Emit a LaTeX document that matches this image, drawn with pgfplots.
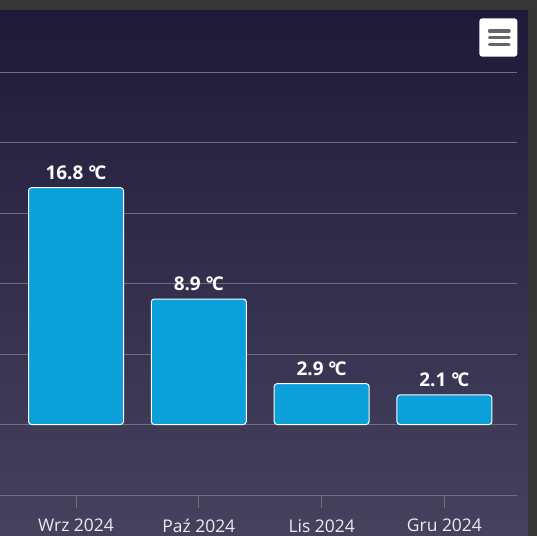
\documentclass[border=0pt]{standalone}
\usepackage{pgfplots}
\pgfplotsset{compat=1.18}
\usepackage{fontspec}
\setmainfont{Open Sans}
\definecolor{frame}{RGB}{54,54,54}
\definecolor{bgtop}{RGB}{32,26,58}
\definecolor{bgbot}{RGB}{70,66,94}
\definecolor{gridc}{RGB}{112,110,125}
\definecolor{barblue}{RGB}{12,160,218}
\definecolor{ticktext}{RGB}{236,236,240}
\definecolor{btngray}{RGB}{102,102,102}
\begin{document}
\begin{tikzpicture}[x=1bp,y=1bp]
\fill[frame] (0,0) rectangle (537,-536);
\shade[top color=bgtop,bottom color=bgbot] (0,-11) rectangle (528,-536);
\begin{axis}[
  at={(0bp,-495bp)}, anchor=south west,
  scale only axis, width=517bp, height=423bp,
  xmin=-0.619, xmax=3.591, ymin=-5, ymax=25,
  separate axis lines,
  axis x line*=bottom, axis y line*=left,
  y axis line style={draw=none},
  x axis line style={draw=gridc, line width=1bp},
  ytick={-5,0,5,10,15,20,25},
  yticklabel=\empty,
  ytick style={draw=none},
  ymajorgrids,
  grid style={draw=gridc, line width=1bp},
  xtick={0,1,2,3},
  xticklabels={Wrz 2024,Paź 2024,Lis 2024,Gru 2024},
  tick align=outside,
  major tick length=13bp,
  xtick style={draw=gridc, line width=1bp},
  xticklabel style={font=\fontsize{17.5}{20}\selectfont, text=ticktext, inner sep=1bp, yshift=-10bp},
  ybar, bar width=95bp,
  /pgf/number format/assume math mode=true,
  nodes near coords={\pgfmathprintnumber[fixed,precision=1,fixed zerofill]{\pgfplotspointmeta}\ \kern0bp°\kern-2bp C},
  nodes near coords style={font=\bfseries\fontsize{19}{22}\selectfont, text=white, anchor=south, yshift=4bp},
  clip=false,
]
\addplot[fill=barblue, draw=white, line width=1bp, rounded corners=3bp] coordinates {(0,16.8) (1,8.9) (2,2.9) (3,2.1)};
\end{axis}
\fill[white, rounded corners=3bp] (479.3,-18.3) rectangle (517.3,-56.7);
\foreach \yy in {-31,-37.5,-44.3} \draw[btngray, line width=3.5bp, line cap=round] (489.5,\yy) -- (509,\yy);
\pgfresetboundingbox
\useasboundingbox (0,0) rectangle (537,-536);
\end{tikzpicture}
\end{document}
